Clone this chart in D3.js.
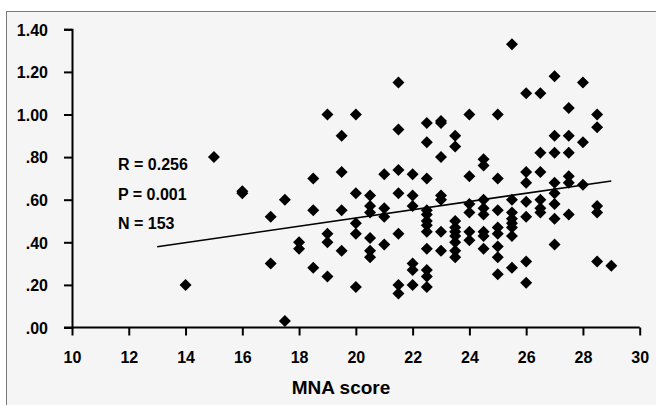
<!DOCTYPE html>
<html>
<head>
<meta charset="utf-8">
<title>MNA score scatter</title>
<script src="https://cdn.jsdelivr.net/npm/d3@7"></script>
<style>
    body { margin: 0; background: #fff; }
    text { font-family: "Liberation Sans", Arial, sans-serif; font-weight: bold; fill: #000; }
</style>
</head>
<body>
<script>
    // values, one list of y values per MNA score
    var mnaScores = [14, 15, 16, 17, 17.5, 18, 18.5, 19, 19.5, 20, 20.5, 21, 21.5, 22, 22.5,
        23, 23.5, 24, 24.5, 25, 25.5, 26, 26.5, 27, 27.5, 28, 28.5, 29];
    var values = [
        [0.20],
        [0.80],
        [0.63, 0.64],
        [0.52, 0.30],
        [0.60, 0.03],
        [0.40, 0.37],
        [0.70, 0.55, 0.28],
        [1.00, 0.44, 0.40, 0.24],
        [0.90, 0.73, 0.55, 0.36],
        [1.00, 0.63, 0.49, 0.44, 0.19],
        [0.62, 0.57, 0.54, 0.42, 0.36, 0.33],
        [0.72, 0.56, 0.52, 0.39],
        [1.15, 0.93, 0.74, 0.63, 0.44, 0.20, 0.16],
        [0.72, 0.62, 0.57, 0.30, 0.27, 0.20],
        [0.96, 0.87, 0.70, 0.55, 0.53, 0.50, 0.48, 0.45, 0.37, 0.27, 0.24, 0.19],
        [0.96, 0.97, 0.80, 0.62, 0.60, 0.45, 0.36],
        [0.90, 0.85, 0.50, 0.47, 0.45, 0.43, 0.40, 0.36, 0.33],
        [1.00, 0.71, 0.58, 0.54, 0.45, 0.41],
        [0.79, 0.76, 0.60, 0.56, 0.53, 0.45, 0.43, 0.37],
        [1.00, 0.70, 0.55, 0.47, 0.44, 0.38, 0.33, 0.25],
        [1.33, 0.60, 0.54, 0.51, 0.49, 0.47, 0.43, 0.28],
        [1.10, 0.73, 0.68, 0.59, 0.52, 0.31, 0.21],
        [1.10, 0.82, 0.73, 0.60, 0.56, 0.54],
        [1.18, 0.90, 0.82, 0.68, 0.63, 0.58, 0.51, 0.39],
        [1.03, 0.90, 0.82, 0.71, 0.68, 0.53],
        [1.15, 0.87, 0.67],
        [1.00, 0.94, 0.57, 0.54, 0.31],
        [0.29]
    ];
    var fitX = [13, 29];
    var fitY = [0.379, 0.688];
    var xTicks = [10, 12, 14, 16, 18, 20, 22, 24, 26, 28, 30];
    var yTicks = [0, 0.2, 0.4, 0.6, 0.8, 1.0, 1.2, 1.4];
    var yTickLabels = [".00", ".20", ".40", ".60", ".80", "1.00", "1.20", "1.40"];
    var stats = ["R = 0.256", "P = 0.001", "N = 153"];

    var width = 656, height = 405;

    var svg = d3.select('body').append('svg').attr('width', width).attr('height', height);

    // frame, only top and left edges fall inside the picture
    svg.append('rect').attr('x', 6.5).attr('y', 11.5).attr('width', 700).attr('height', 500)
        .attr('fill', '#f5f5f5').attr('stroke', '#7a7a7a').attr('stroke-width', 1);

    var x = d3.scaleLinear().domain([10, 30]).range([72, 639.7]);
    var y = d3.scaleLinear().domain([0, 1.4]).range([327.5, 29.3]);

    var points = [];
    mnaScores.forEach(function (s, i) {
        values[i].forEach(function (v) { points.push({ x: s, y: v }); });
    });

    // axes
    var yAxis = svg.append('g').attr('transform', 'translate(72,0)')
        .call(d3.axisLeft(y).tickValues(yTicks).tickSizeOuter(0).tickSize(8).tickPadding(16)
            .tickFormat(function (d, i) { return yTickLabels[i]; }));
    var xAxis = svg.append('g').attr('transform', 'translate(0,327.5)')
        .call(d3.axisBottom(x).tickValues(xTicks).tickSizeOuter(0).tickSize(8).tickPadding(16)
            .tickFormat(d3.format('d')));

    [xAxis, yAxis].forEach(function (g) {
        g.select('.domain').attr('stroke', '#000').attr('stroke-width', 2);
        g.selectAll('.tick line').attr('stroke', '#000').attr('stroke-width', 2);
        g.selectAll('.tick text').style('font-size', '16px').style('font-family', '"Liberation Sans", Arial, sans-serif')
            .style('font-weight', 'bold').attr('fill', '#000');
    });
    xAxis.select('.domain').attr('d', 'M64,0H' + x(30));
    xAxis.selectAll('.tick text').attr('dy', null).attr('y', 35);
    yAxis.selectAll('.tick text').attr('dy', '0.36em');

    // fit line
    svg.append('line')
        .attr('x1', x(fitX[0])).attr('y1', y(fitY[0]))
        .attr('x2', x(fitX[1])).attr('y2', y(fitY[1]))
        .attr('stroke', '#000').attr('stroke-width', 1.6);

    // diamonds
    var diamond = d3.symbol().type(d3.symbolSquare).size(72);
    svg.append('g').selectAll('path').data(points).enter().append('path')
        .attr('d', diamond)
        .attr('transform', function (d) { return 'translate(' + x(d.x) + ',' + y(d.y) + ') rotate(45)'; })
        .attr('fill', '#000');

    // stats text
    svg.append('g').selectAll('text').data(stats).enter().append('text')
        .attr('x', 118).attr('y', function (d, i) { return 170 + i * 29.7; })
        .style('font-size', '16px')
        .text(function (d) { return d; });

    svg.append('text').attr('x', 341).attr('y', 394).attr('text-anchor', 'middle')
        .style('font-size', '19px').text('MNA score');
</script>
</body>
</html>
